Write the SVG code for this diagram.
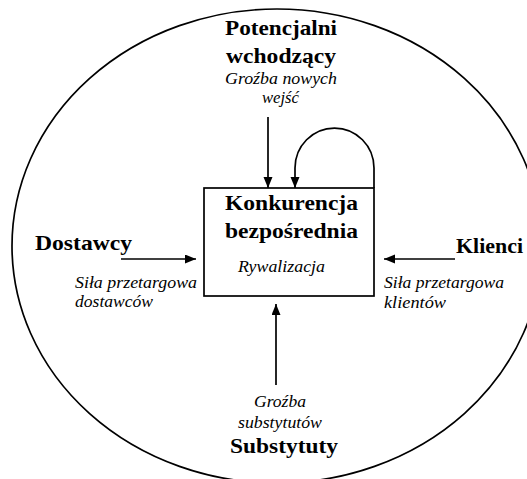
<svg xmlns="http://www.w3.org/2000/svg" width="527" height="479" viewBox="0 0 527 479">
<style>
text{font-family:'Liberation Serif','Times New Roman',serif;fill:#000}
.b{font-weight:bold;font-size:21px}
.i{font-style:italic;font-size:16.5px}
.ln{fill:none;stroke:#000;stroke-width:1.7}
</style>
<defs>
<marker id="ah" markerUnits="userSpaceOnUse" markerWidth="12" markerHeight="10" refX="11" refY="4.5" orient="auto">
<path d="M0,0 L11,4.5 L0,9 z" fill="#000"/>
</marker>
</defs>
<rect width="527" height="479" fill="#fff"/>
<ellipse id="boundary" cx="277" cy="246" rx="265" ry="237" class="ln"/>
<g id="center">
<rect x="204" y="188" width="170" height="108" class="ln"/>
<text class="b" x="225" y="210" textLength="133" lengthAdjust="spacingAndGlyphs">Konkurencja</text>
<text class="b" x="225" y="238" textLength="133" lengthAdjust="spacingAndGlyphs">bezpośrednia</text>
<text class="i" x="238" y="272" textLength="87" lengthAdjust="spacingAndGlyphs">Rywalizacja</text>
</g>
<g id="entrants">
<text class="b" x="225" y="35" textLength="112" lengthAdjust="spacingAndGlyphs">Potencjalni</text>
<text class="b" x="226" y="63" textLength="110" lengthAdjust="spacingAndGlyphs">wchodzący</text>
<text class="i" x="225" y="84" textLength="112" lengthAdjust="spacingAndGlyphs">Groźba nowych</text>
<text class="i" x="262" y="103" textLength="37" lengthAdjust="spacingAndGlyphs">wejść</text>
</g>
<g id="suppliers">
<text class="b" x="35" y="250" textLength="97" lengthAdjust="spacingAndGlyphs">Dostawcy</text>
<text class="i" x="75" y="288" textLength="122" lengthAdjust="spacingAndGlyphs">Siła przetargowa</text>
<text class="i" x="75" y="307" textLength="78" lengthAdjust="spacingAndGlyphs">dostawców</text>
</g>
<g id="clients">
<text class="b" x="456" y="253" textLength="67" lengthAdjust="spacingAndGlyphs">Klienci</text>
<text class="i" x="384" y="288" textLength="120" lengthAdjust="spacingAndGlyphs">Siła przetargowa</text>
<text class="i" x="384" y="308" textLength="62" lengthAdjust="spacingAndGlyphs">klientów</text>
</g>
<g id="substitutes">
<text class="i" x="254" y="407" textLength="52" lengthAdjust="spacingAndGlyphs">Groźba</text>
<text class="i" x="238" y="428" textLength="84" lengthAdjust="spacingAndGlyphs">substytutów</text>
<text class="b" x="230" y="453" textLength="108" lengthAdjust="spacingAndGlyphs">Substytuty</text>
</g>
<g id="connectors">
<line x1="268" y1="117" x2="268" y2="188" class="ln" marker-end="url(#ah)"/>
<path d="M374,188 L374,168 A39.5,40 0 0 0 295,168 L295,188" class="ln" marker-end="url(#ah)"/>
<line x1="121" y1="259" x2="196" y2="259" class="ln" marker-end="url(#ah)"/>
<line x1="455" y1="259" x2="384" y2="259" class="ln" marker-end="url(#ah)"/>
<line x1="276" y1="385" x2="276" y2="304" class="ln" marker-end="url(#ah)"/>
</g>
</svg>
